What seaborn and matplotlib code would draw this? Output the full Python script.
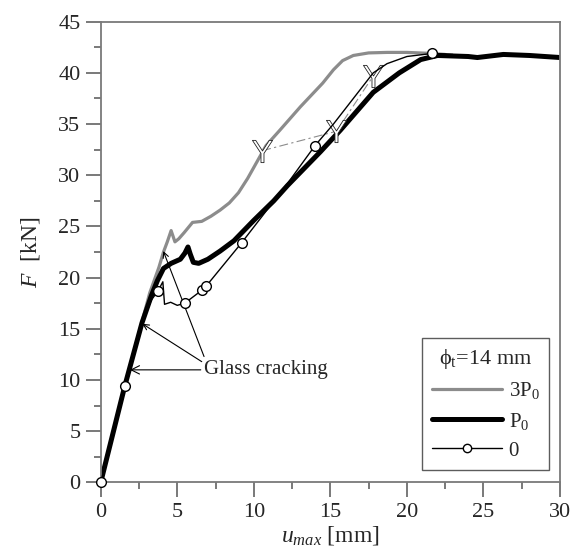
import matplotlib
matplotlib.use("Agg")
import matplotlib.pyplot as plt
from matplotlib.lines import Line2D
from matplotlib.ticker import MultipleLocator
import seaborn as sns
import pandas as pd

# load-displacement curves, phi_t = 14 mm
x_3p0 = [0, 1.57, 2.7, 3.2, 3.8, 4.1, 4.35, 4.6, 4.85, 5.1, 5.45, 6.0, 6.6, 7.2, 7.8, 8.4, 9.0,
         9.6, 10.2, 10.8, 11.7, 13.05, 14.5, 15.2, 15.8, 16.5, 17.5, 18.7, 20.0, 21.6, 22.5]
y_3p0 = [0, 9.4, 15.7, 18.5, 21.0, 22.5, 23.5, 24.6, 23.5, 23.8, 24.4, 25.4, 25.5, 26.0, 26.6, 27.3, 28.3,
         29.7, 31.3, 32.9, 34.4, 36.7, 39.0, 40.3, 41.2, 41.7, 41.95, 42.0, 42.0, 41.9, 41.8]

x_p0 = [0, 1.57, 2.7, 3.3, 3.7, 4.1, 4.6, 5.2, 5.5, 5.7, 5.85, 6.05, 6.4, 7.0, 7.8, 8.7,
        10.0, 11.3, 12.2, 14.35, 15.65, 17.8, 19.5, 20.9, 22.0, 24.0, 24.6, 26.3, 28.0, 30.0]
y_p0 = [0, 9.4, 15.6, 18.2, 19.7, 20.9, 21.4, 21.8, 22.4, 23.0, 22.3, 21.5, 21.4, 21.8, 22.6, 23.6,
        25.6, 27.5, 29.0, 32.3, 34.4, 38.1, 40.0, 41.3, 41.7, 41.6, 41.5, 41.8, 41.7, 41.5]

x_0 = [0, 1.57, 2.7, 3.3, 3.74, 4.06, 4.17, 4.57, 5.0, 5.48, 6.63, 6.9, 9.2, 12.2, 14.0,
       15.2, 16.5, 17.8, 18.7, 20.0, 21.65, 23.0]
y_0 = [0, 9.4, 15.6, 17.8, 18.7, 19.6, 17.4, 17.6, 17.3, 17.5, 18.8, 19.2, 23.4, 29.2, 32.9,
       35.0, 37.5, 40.0, 40.9, 41.6, 41.9, 41.8]
marks_0 = [0, 1, 4, 9, 10, 11, 12, 14, 20]

# yield points linked by dashed line
x_yield = [10.55, 15.4, 17.8]
y_yield = [32.4, 34.3, 39.7]

sns.set_style("ticks")
plt.rcParams["font.family"] = ["Liberation Serif", "DejaVu Serif"]
plt.rcParams["mathtext.fontset"] = "custom"
plt.rcParams["mathtext.rm"] = "Liberation Serif"
plt.rcParams["mathtext.it"] = "Liberation Serif:italic"
plt.rcParams["mathtext.sf"] = "Liberation Sans"

fig = plt.figure(figsize=(5.81, 5.56), dpi=100)
ax = fig.add_axes([0.1733, 0.1322, 0.7906, 0.8288])

sns.lineplot(data=pd.DataFrame({"x": x_3p0, "y": y_3p0}), x="x", y="y", sort=False,
             estimator=None, color="#8c8c8c", lw=2.3, ax=ax)
sns.lineplot(data=pd.DataFrame({"x": x_p0, "y": y_p0}), x="x", y="y", sort=False,
             estimator=None, color="black", lw=3.6, ax=ax)
sns.lineplot(data=pd.DataFrame({"x": x_0, "y": y_0}), x="x", y="y", sort=False,
             estimator=None, color="black", lw=1.0, marker="o", markevery=marks_0,
             ms=7, mfc="white", mec="black", mew=1.0, ax=ax)
ax.get_lines()[-1].set_clip_on(False)
ax.get_lines()[-1].set_zorder(6)

ax.plot(x_yield, y_yield, color="#8c8c8c", lw=0.8, ls=(0, (8, 3, 2, 3)), zorder=4)
ax.plot(x_yield, y_yield, ls="none", marker=r"$\mathsf{Y}$", ms=16, mfc="white",
        mec="#222222", mew=0.6, zorder=5)

# glass cracking arrows
txt_x, txt_y = 6.75, 11.0
arrow = dict(arrowstyle="->", color="black", lw=0.8, shrinkA=0, shrinkB=0)
ax.annotate("Glass cracking", xy=(1.91, 11.0), xytext=(txt_x, txt_y), fontsize=15,
            va="center", ha="left", arrowprops=arrow)
ax.annotate("", xy=(2.72, 15.5), xytext=(6.6, 11.8), arrowprops=arrow)
ax.annotate("", xy=(4.09, 22.6), xytext=(6.75, 12.3), arrowprops=arrow)

ax.set_xlim(0, 30)
ax.set_ylim(0, 45)
ax.xaxis.set_major_locator(MultipleLocator(5))
ax.xaxis.set_minor_locator(MultipleLocator(2.5))
ax.yaxis.set_major_locator(MultipleLocator(5))
ax.yaxis.set_minor_locator(MultipleLocator(2.5))
for s in ax.spines.values():
    s.set_visible(True)
    s.set_color("#7a7a7a")
    s.set_linewidth(1.3)
ax.tick_params(which="major", direction="out", length=10.5, width=1.1, color="#555555",
               labelsize=16, pad=4)
ax.tick_params(which="minor", direction="out", length=4.8, width=1.1, color="#555555")
ax.set_xlabel(r"$u_{max}$ [mm]", fontsize=17, labelpad=2)
ax.set_ylabel(r"$F$  [kN]", fontsize=17, labelpad=12)

handles = [Line2D([], [], color="#8c8c8c", lw=2.3),
           Line2D([], [], color="black", lw=3.6),
           Line2D([], [], color="black", lw=1.0, marker="o", ms=6, mfc="white", mec="black")]
leg = ax.legend(handles, [r"3P$_0$", r"P$_0$", "0"], title=r"ϕ$_\mathrm{t}$=14 mm",
                loc="lower right", bbox_to_anchor=(0.976, 0.027), borderaxespad=0,
                fontsize=15, title_fontsize=16, handlelength=3.4, frameon=True,
                fancybox=False, borderpad=0.45, labelspacing=0.45, handletextpad=0.3)
leg.get_frame().set_edgecolor("#333333")
leg.get_frame().set_linewidth(1.0)

fig.savefig("out.png", dpi=100)
